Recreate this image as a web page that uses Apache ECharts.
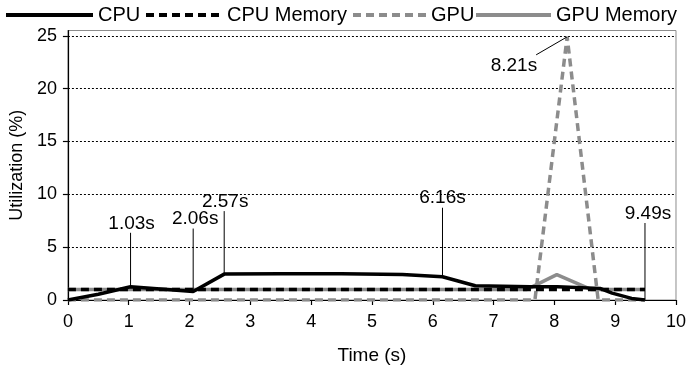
<!DOCTYPE html>
<html>
<head>
<meta charset="utf-8">
<script src="https://cdn.jsdelivr.net/npm/echarts@6/dist/echarts.min.js"></script>
<style>
  html, body { margin: 0; padding: 0; background: #fff; }
  #chart { width: 689px; height: 372px; }
</style>
</head>
<body>
<div id="chart"></div>
<script>
// Utilization traces (time in seconds, utilization in %)
const cpuTime = [0, 0.5, 1.03, 2.06, 2.57, 3.5, 4.5, 5.5, 6.16, 6.7, 7.6, 8.05, 8.75, 8.95, 9.27, 9.49];
const cpuUtil = [0, 0.55, 1.25, 0.8, 2.45, 2.48, 2.48, 2.42, 2.2, 1.35, 1.25, 1.25, 1.1, 0.65, 0.15, 0];

const cpuMemTime = [0, 9.49];
const cpuMemUtil = [1.0, 1.0];

const gpuTime = [0, 7.68, 8.21, 8.72, 9.49];
const gpuUtil = [0, 0, 24.9, 0, 0];

const gpuMemTime = [0, 7.55, 8.04, 8.6, 9.49];
const gpuMemUtil = [1.0, 1.0, 2.4, 1.0, 1.0];

// Annotated instants
const noteText = ['1.03s', '2.06s', '2.57s', '6.16s', '8.21s', '9.49s'];
const noteTime = [1.03, 2.06, 2.57, 6.16, 8.21, 9.49];
const noteValue = [1.25, 0.8, 2.45, 2.2, 24.9, 0];

// Axis ticks
const xTicks = [0, 1, 2, 3, 4, 5, 6, 7, 8, 9, 10];
const yTicks = [0, 5, 10, 15, 20, 25];

// Leader-line geometry for each note (pixel offsets from the anchor point)
const leaderOffset = [[0, -54], [0, -63], [0, -63], [0, -69], [-31, 18], [0, -77]];
const textPlace = [
  { dx: 1, dy: 0, align: 'center', vAlign: 'bottom' },
  { dx: 2, dy: 0, align: 'center', vAlign: 'bottom' },
  { dx: 1, dy: 0, align: 'center', vAlign: 'bottom' },
  { dx: 0, dy: 0, align: 'center', vAlign: 'bottom' },
  { dx: 1, dy: 1, align: 'right', vAlign: 'top' },
  { dx: 3, dy: 0, align: 'center', vAlign: 'bottom' }
];

const FONT = "'Liberation Sans', Arial, Helvetica, sans-serif";
const GRAY = '#8c8c8c';

function pairs(xs, ys) { return xs.map((x, i) => [x, ys[i]]); }

const chart = echarts.init(document.getElementById('chart'), null, { renderer: 'canvas' });

const legendBase = {
  top: 5,
  padding: 0,
  itemHeight: 14,
  itemStyle: { opacity: 0, borderWidth: 0 },
  lineStyle: { width: 4 },
  textStyle: { fontFamily: FONT, fontSize: 20, color: '#000' },
  selectedMode: false
};

chart.setOption({
  animation: false,
  backgroundColor: '#fff',
  textStyle: { fontFamily: FONT },
  grid: {
    left: 65, right: 11, top: 30.5, bottom: 72,
    show: true, borderColor: '#8c8c8c', borderWidth: 1, containLabel: false
  },
  legend: [
    Object.assign({}, legendBase, { data: ['CPU'], left: 4, itemWidth: 87 }),
    Object.assign({}, legendBase, { data: ['CPU Memory'], left: 144, itemWidth: 76 }),
    Object.assign({}, legendBase, { data: ['GPU'], left: 351, itemWidth: 73 }),
    Object.assign({}, legendBase, { data: ['GPU Memory'], left: 474, itemWidth: 75 })
  ],
  xAxis: {
    type: 'value', min: 0, max: 10, interval: 1,
    name: 'Time (s)', nameLocation: 'middle', nameGap: 46,
    nameTextStyle: { fontFamily: FONT, fontSize: 19, color: '#000' },
    axisLine: { show: true, onZero: false, lineStyle: { color: '#000', width: 1.2 } },
    axisTick: { show: true, length: 5, lineStyle: { color: '#000', width: 1.2 }, customValues: xTicks },
    axisLabel: { fontFamily: FONT, fontSize: 18, color: '#000', margin: 13, customValues: xTicks },
    splitLine: { show: false }
  },
  yAxis: {
    type: 'value', min: 0, max: 25.5, interval: 5,
    name: 'Utilization (%)', nameLocation: 'middle', nameGap: 39,
    nameTextStyle: { fontFamily: FONT, fontSize: 18, color: '#000' },
    axisLine: { show: true, onZero: false, lineStyle: { color: '#000', width: 1.2 } },
    axisTick: { show: true, length: 5, lineStyle: { color: '#000', width: 1.2 }, customValues: yTicks },
    axisLabel: { fontFamily: FONT, fontSize: 18, color: '#000', margin: 11, customValues: yTicks },
    splitLine: { show: true, lineStyle: { color: '#000', width: 1, type: [2, 2] } }
  },
  series: [
    {
      name: 'GPU', type: 'line', z: 2, symbol: 'none', showSymbol: false,
      data: pairs(gpuTime, gpuUtil),
      lineStyle: { color: GRAY, width: 3.5, type: [8, 5] },
      itemStyle: { color: GRAY }
    },
    {
      name: 'GPU Memory', type: 'line', z: 3, symbol: 'none', showSymbol: false,
      data: pairs(gpuMemTime, gpuMemUtil),
      lineStyle: { color: GRAY, width: 3.5 },
      itemStyle: { color: GRAY }
    },
    {
      name: 'CPU Memory', type: 'line', z: 4, symbol: 'none', showSymbol: false,
      data: pairs(cpuMemTime, cpuMemUtil),
      lineStyle: { color: '#000', width: 3.5, type: [8, 5] },
      itemStyle: { color: '#000' }
    },
    {
      name: 'CPU', type: 'line', z: 5, symbol: 'none', showSymbol: false,
      data: pairs(cpuTime, cpuUtil),
      lineStyle: { color: '#000', width: 3.5 },
      itemStyle: { color: '#000' }
    },
    {
      name: 'notes', type: 'custom', z: 6, silent: true, clip: false,
      data: noteTime.map((t, i) => [t, noteValue[i], i]),
      encode: { x: 0, y: 1 },
      renderItem: function (params, api) {
        const i = api.value(2);
        const p = api.coord([api.value(0), api.value(1)]);
        const off = leaderOffset[i];
        const tip = [p[0] + off[0], p[1] + off[1]];
        const tp = textPlace[i];
        return {
          type: 'group',
          children: [
            {
              type: 'line',
              shape: { x1: p[0], y1: p[1], x2: tip[0], y2: tip[1] },
              style: { stroke: '#000', lineWidth: 1 }
            },
            {
              type: 'text',
              x: tip[0] + tp.dx, y: tip[1] + tp.dy,
              style: {
                text: noteText[i], fill: '#000',
                font: '19px ' + FONT,
                align: tp.align, verticalAlign: tp.vAlign
              }
            }
          ]
        };
      }
    }
  ]
});
</script>
</body>
</html>
